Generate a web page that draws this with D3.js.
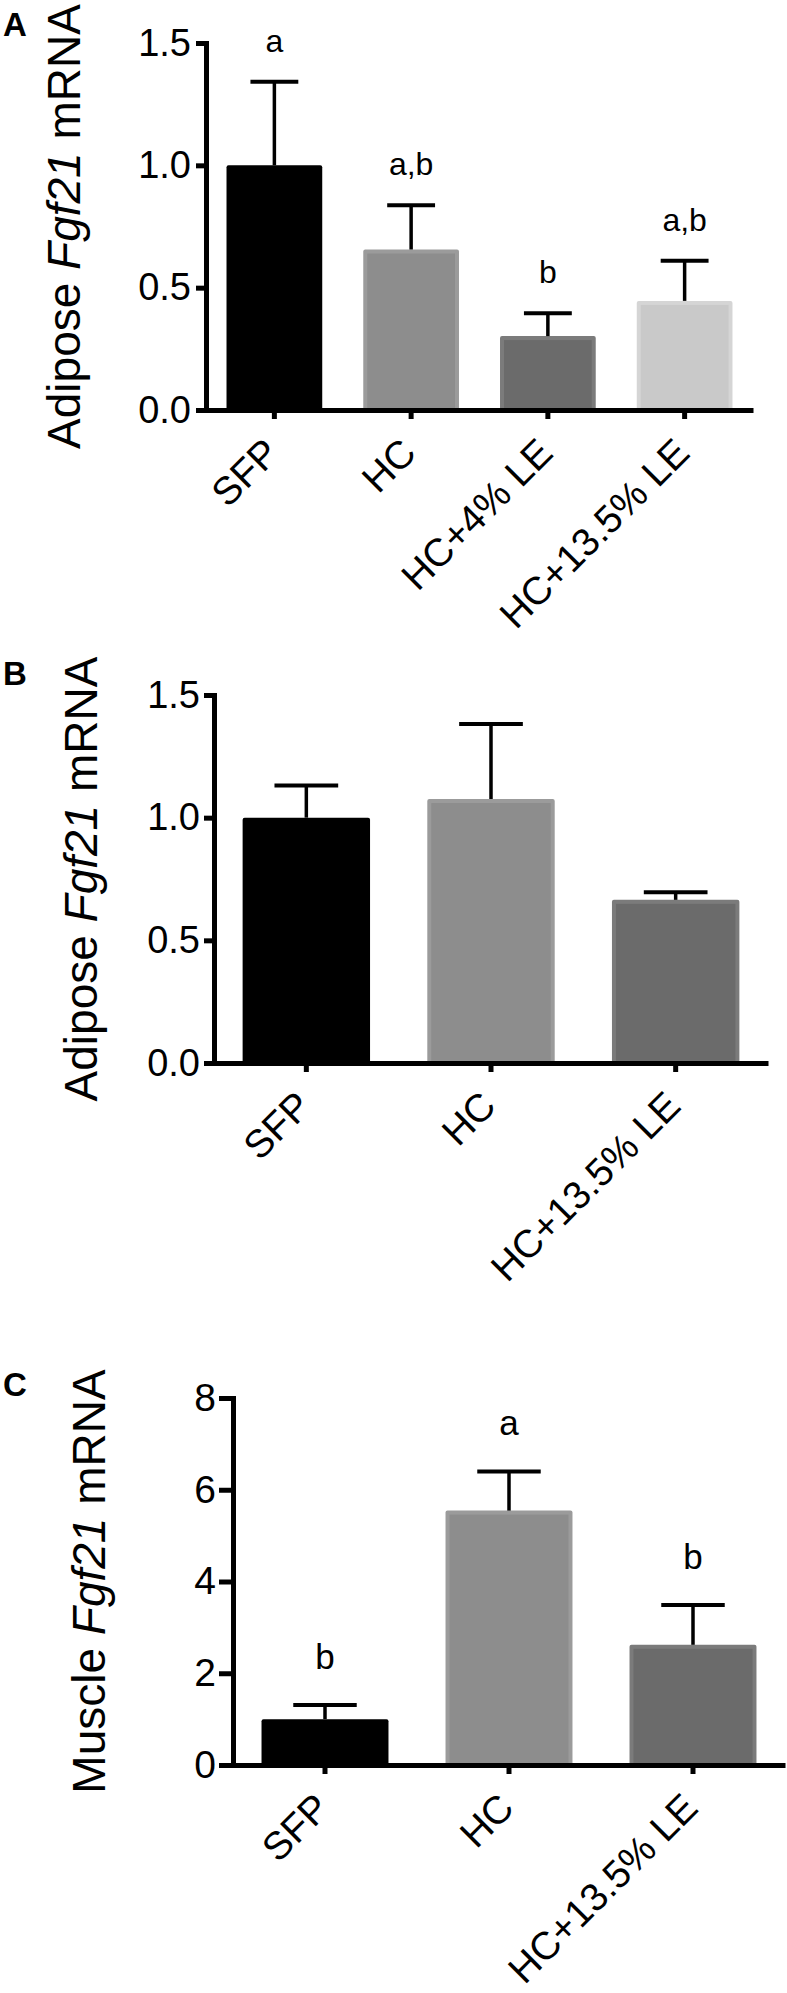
<!DOCTYPE html>
<html>
<head>
<meta charset="utf-8">
<script src="https://cdn.jsdelivr.net/npm/d3@7"></script>
<style>
  body { margin: 0; background: #fff; }
  text { font-family: 'Liberation Sans', Arial, Helvetica, sans-serif; fill: #000; }
</style>
</head>
<body>
<script>
// values
const groupsA = ['SFP', 'HC', 'HC+4% LE', 'HC+13.5% LE'];
const meanA = [1.0, 0.656, 0.302, 0.446];
const semA = [0.342, 0.181, 0.093, 0.164];
const lettersA = ['a', 'a,b', 'b', 'a,b'];

const groupsB = ['SFP', 'HC', 'HC+13.5% LE'];
const meanB = [1.0, 1.076, 0.665];
const semB = [0.131, 0.306, 0.031];

const groupsC = ['SFP', 'HC', 'HC+13.5% LE'];
const meanC = [1.0, 5.545, 2.62];
const semC = [0.31, 0.855, 0.87];
const lettersC = ['b', 'a', 'b'];

const ticksAB = [0, 0.5, 1.0, 1.5];
const ticksC = [0, 2, 4, 6, 8];

// fill / edge greys per group
const shades = {
    'SFP': ['#000000', '#000000'],
    'HC': ['#8d8d8d', '#9b9b9b'],
    'HC+4% LE': ['#6b6b6b', '#7b7b7b'],
    'HC+13.5% LE': ['#c9c9c9', '#d5d5d5']
};
const shadesBC = Object.assign({}, shades, { 'HC+13.5% LE': ['#6b6b6b', '#7b7b7b'] });

const svg = d3.select('body').append('svg')
    .attr('width', 787)
    .attr('height', 1993);

function drawPanel(o) {
    const g = svg.append('g');

    const y = d3.scaleLinear().domain([0, o.yMax]).range([o.bottom, o.top]);
    const x = d3.scaleBand().domain(o.groups)
        .range([o.axisX, o.axisEnd])
        .paddingInner(o.pad).paddingOuter(o.pad / 2);
    const bw = x.bandwidth();

    // bars: lighter edge + inner fill
    g.selectAll('rect.edge').data(o.groups).join('rect')
        .attr('class', 'edge')
        .attr('x', d => x(d))
        .attr('y', (d, i) => y(o.means[i]))
        .attr('width', bw)
        .attr('height', (d, i) => o.bottom - y(o.means[i]))
        .attr('rx', 2)
        .attr('fill', d => o.shades[d][1]);
    g.selectAll('rect.fill').data(o.groups).join('rect')
        .attr('class', 'fill')
        .attr('x', d => x(d) + 4)
        .attr('y', (d, i) => y(o.means[i]) + 4)
        .attr('width', bw - 8)
        .attr('height', (d, i) => o.bottom - y(o.means[i]) - 4)
        .attr('fill', d => o.shades[d][0]);

    // upper error bars
    const cx = d => x(d) + bw / 2;
    g.selectAll('line.stem').data(o.groups).join('line')
        .attr('class', 'stem')
        .attr('x1', cx).attr('x2', cx)
        .attr('y1', (d, i) => y(o.means[i]))
        .attr('y2', (d, i) => y(o.means[i] + o.sems[i]))
        .attr('stroke', '#000').attr('stroke-width', 3.5);
    g.selectAll('line.cap').data(o.groups).join('line')
        .attr('class', 'cap')
        .attr('x1', d => cx(d) - bw / 4).attr('x2', d => cx(d) + bw / 4)
        .attr('y1', (d, i) => y(o.means[i] + o.sems[i]))
        .attr('y2', (d, i) => y(o.means[i] + o.sems[i]))
        .attr('stroke', '#000').attr('stroke-width', 4);

    if (o.letters) {
        g.selectAll('text.sig').data(o.groups).join('text')
            .attr('class', 'sig')
            .attr('x', cx)
            .attr('y', (d, i) => y(o.means[i] + o.sems[i]) - o.letterGap)
            .attr('text-anchor', 'middle')
            .style('font-size', o.letterSize + 'px')
            .text((d, i) => o.letters[i]);
    }

    // axes
    const yAxis = g.append('g')
        .attr('transform', 'translate(' + o.axisX + ',0)')
        .call(d3.axisLeft(y).tickValues(o.ticks).tickFormat(o.fmt)
            .tickSize(o.tickSize).tickPadding(o.tickPad));
    const xAxis = g.append('g')
        .attr('transform', 'translate(0,' + o.bottom + ')')
        .call(d3.axisBottom(x).tickSize(9).tickSizeOuter(0));

    [yAxis, xAxis].forEach(a => {
        a.select('.domain').attr('stroke', '#000').attr('stroke-width', 5);
        a.selectAll('.tick line').attr('stroke', '#000').attr('stroke-width', 5);
    });
    yAxis.selectAll('.tick text')
        .style('font-size', o.tickFont + 'px')
        .style('font-family', "'Liberation Sans', Arial, sans-serif")
        .attr('fill', '#000');
    xAxis.selectAll('.tick text')
        .attr('x', 0).attr('y', 0).attr('dy', 0)
        .attr('text-anchor', 'end')
        .attr('transform', 'translate(7,45) rotate(-45)')
        .style('font-size', '39px')
        .style('font-family', "'Liberation Sans', Arial, sans-serif")
        .attr('fill', '#000');

    // y title
    const t = g.append('text')
        .attr('transform', 'translate(' + o.titleX + ',' + (o.top + o.bottom) / 2 + ') rotate(-90)')
        .attr('text-anchor', 'middle')
        .style('font-size', '46px');
    t.append('tspan').text(o.title[0] + ' ');
    t.append('tspan').style('font-style', 'italic').text('Fgf21');
    t.append('tspan').text(' mRNA');

    // panel letter
    g.append('text')
        .attr('x', 3).attr('y', o.letterY)
        .style('font-size', '33px').style('font-weight', 'bold')
        .text(o.panel);
}

drawPanel({
    panel: 'A', letterY: 36,
    groups: groupsA, means: meanA, sems: semA, letters: lettersA,
    shades: shades, yMax: 1.5, ticks: ticksAB, fmt: d3.format('.1f'),
    top: 43, bottom: 410, axisX: 206, axisEnd: 753, pad: 0.3,
    tickSize: 10, tickPad: 5, tickFont: 38,
    letterGap: 30, letterSize: 32,
    titleX: 80, title: ['Adipose']
});

drawPanel({
    panel: 'B', letterY: 685,
    groups: groupsB, means: meanB, sems: semB, letters: null,
    shades: shadesBC, yMax: 1.5, ticks: ticksAB, fmt: d3.format('.1f'),
    top: 695, bottom: 1063, axisX: 214, axisEnd: 768, pad: 0.31,
    tickSize: 10, tickPad: 4, tickFont: 38,
    titleX: 97, title: ['Adipose']
});

drawPanel({
    panel: 'C', letterY: 1396,
    groups: groupsC, means: meanC, sems: semC, letters: lettersC,
    shades: shadesBC, yMax: 8, ticks: ticksC, fmt: d3.format('d'),
    top: 1398, bottom: 1765, axisX: 233, axisEnd: 785, pad: 0.31,
    tickSize: 14, tickPad: 3, tickFont: 39,
    letterGap: 36, letterSize: 35,
    titleX: 105, title: ['Muscle']
});
</script>
</body>
</html>
